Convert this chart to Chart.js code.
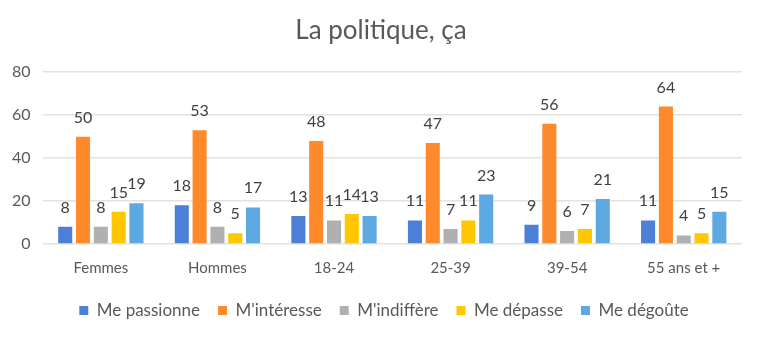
<!DOCTYPE html>
<html>
<head>
<meta charset="utf-8">
<script src="https://cdn.jsdelivr.net/npm/chart.js@4"></script>
<style>
  html, body { margin: 0; padding: 0; background: #fff; }
  #wrap { width: 757px; height: 342px; }
</style>
</head>
<body>
<div id="wrap"><canvas id="chart"></canvas></div>
<script>
// categories and series
const categories = ["Femmes", "Hommes", "18-24", "25-39", "39-54", "55 ans et +"];
const seriesNames = ["Me passionne", "M'intéresse", "M'indiffère", "Me dépasse", "Me dégoûte"];
const passionne = [8, 18, 13, 11, 9, 11];
const interesse = [50, 53, 48, 47, 56, 64];
const indiffere = [8, 8, 11, 7, 6, 4];
const depasse = [15, 5, 14, 11, 7, 5];
const degoute = [19, 17, 13, 23, 21, 15];
const yTicks = [0, 20, 40, 60, 80];

const colors = ["#4E7FD6", "#FF8A2B", "#B0B0B0", "#FFC602", "#5DA8E0"];
const FONT = "Lato, 'Liberation Sans', sans-serif";
const TEXT = "#595959";

// draws the value above each bar
const barLabels = {
  id: "barLabels",
  afterDatasetsDraw(chart) {
    const ctx = chart.ctx;
    ctx.save();
    ctx.font = "16px " + FONT;
    ctx.fillStyle = "#404040";
    ctx.textAlign = "center";
    ctx.textBaseline = "alphabetic";
    chart.data.datasets.forEach((ds, i) => {
      chart.getDatasetMeta(i).data.forEach((bar, j) => {
        ctx.fillText(ds.data[j], bar.x, bar.y - 14);
      });
    });
    ctx.restore();
  }
};

// title and legend sit a bit right of the canvas centre in the original
const nudgeBlocks = {
  id: "nudgeBlocks",
  afterLayout(chart) {
    if (chart.titleBlock) { chart.titleBlock.left += 10; chart.titleBlock.right += 10; }
    if (chart.legend) { chart.legend.left += 13; chart.legend.right += 13; }
  }
};

const allSeries = [passionne, interesse, indiffere, depasse, degoute];

new Chart("chart", {
  type: "bar",
  data: {
    labels: categories,
    datasets: allSeries.map((d, i) => ({
      label: seriesNames[i],
      data: d,
      backgroundColor: colors[i],
      categoryPercentage: 0.764,
      barPercentage: 0.79
    }))
  },
  options: {
    responsive: true,
    maintainAspectRatio: false,
    animation: false,
    layout: { padding: { left: 0, right: 15, top: 4, bottom: 13 } },
    plugins: {
      title: {
        display: true,
        text: "La politique, ça",
        color: TEXT,
        font: { family: FONT, size: 26, weight: "normal" },
        padding: { top: 11, bottom: 26 }
      },
      legend: {
        position: "bottom",
        labels: {
          color: TEXT,
          font: { family: FONT, size: 17 },
          boxWidth: 9,
          boxHeight: 9,
          padding: 18
        }
      },
      tooltip: { enabled: false }
    },
    scales: {
      x: {
        grid: { display: false },
        border: { display: false },
        ticks: { color: TEXT, font: { family: FONT, size: 15 }, padding: 7 }
      },
      y: {
        min: 0,
        max: 80,
        afterBuildTicks: axis => { axis.ticks = yTicks.map(v => ({ value: v })); },
        grid: { color: "#E2E2E2", lineWidth: 1.5, drawTicks: false },
        border: { display: false },
        ticks: { color: TEXT, font: { family: FONT, size: 16 }, padding: 12 }
      }
    }
  },
  plugins: [barLabels, nudgeBlocks]
});
</script>
</body>
</html>
